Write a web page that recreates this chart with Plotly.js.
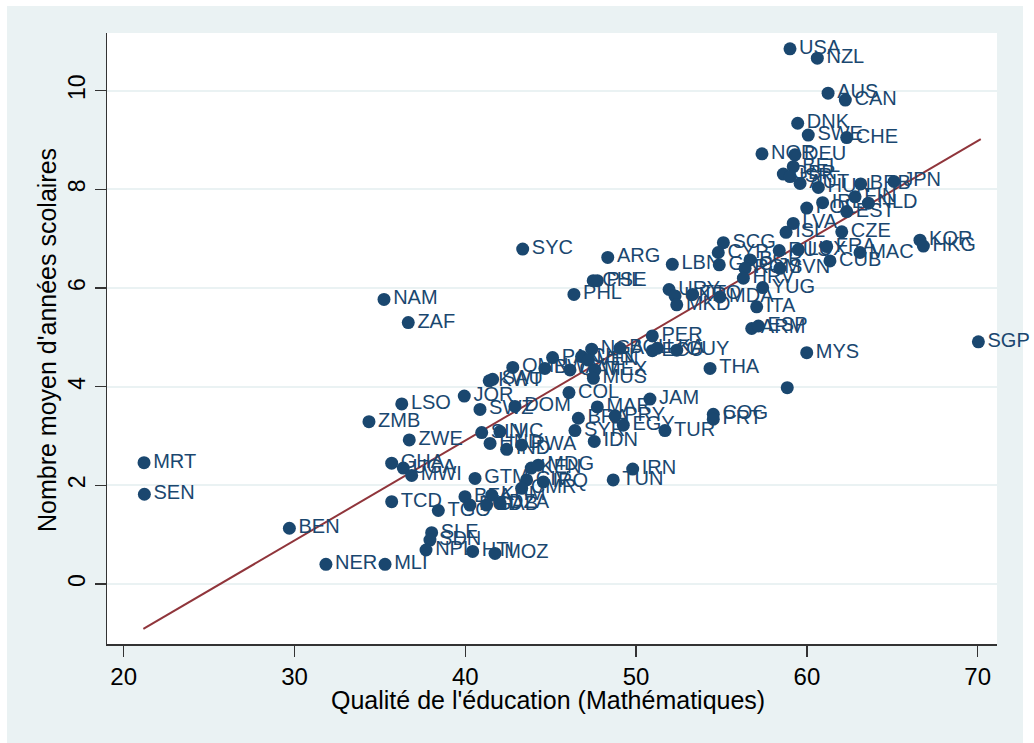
<!DOCTYPE html>
<html>
<head>
<meta charset="utf-8">
<script src="https://cdn.plot.ly/plotly-3.0.1.min.js"></script>
<style>html,body{margin:0;padding:0;background:#fff;}#chart{width:1034px;height:743px;}</style>
</head>
<body>
<div id="chart"></div>
<script>
// Country codes, education quality (maths) and mean years of schooling
const countries = ["USA","NZL","AUS","CAN","DNK","SWE","CHE","NOR","DEU","BEL","GBR","ISR","AUT","HUN","BRB","JPN","FIN","NLD","IRL","POL","EST","LVA","ISL","CZE","SCG","CYP","RUS","LUX","FRA","MAC","CUB","KOR","HKG","GRC","BGR","ROM","HRV","SVN","YUG","TTO","MDA","ITA","ARM","ESP","MYS","THA","SGP","SYC","ARG","LBN","CHL","PSE","PHL","URY","UKR","MKD","PER","NGA","BOL","ECU","LKA","GUY","PAN","CHN","VEN","OMN","BWA","QAT","MEX","MUS","SAU","KWT","JOR","COL","JAM","LSO","SWZ","DOM","ZMB","MAR","BRA","PRY","EGY","TUR","SYR","IDN","COG","PRT","ZWE","SLV","NIC","HND","IND","RWA","GHA","UGA","MWI","GTM","KEN","MDG","IRN","TUN","CIV","IRQ","CMR","TCD","TGO","BFA","BGD","KHM","GAB","DZA","SLE","SDN","NPL","HTI","MOZ","MLI","NER","BEN","MRT","SEN","NAM","ZAF",""];
const quality = [59.01,60.61,61.24,62.25,59.46,60.08,62.33,57.37,59.30,59.20,58.62,59.01,59.60,60.67,63.15,65.10,62.82,63.60,60.92,59.99,62.33,59.20,58.78,62.04,55.11,54.81,58.38,59.50,61.16,63.11,61.35,66.62,66.82,54.87,56.67,56.38,56.28,58.42,57.41,53.31,54.91,57.06,56.77,57.16,59.99,54.33,70.04,43.36,48.34,52.12,47.49,47.73,46.36,51.93,52.28,52.38,50.95,47.40,49.06,50.95,51.25,52.38,45.11,46.81,47.20,42.78,44.66,46.13,47.59,47.50,41.60,41.40,39.94,46.07,50.81,36.28,40.86,42.91,34.36,47.73,46.62,48.77,49.25,51.69,46.42,47.55,54.52,54.52,36.72,40.96,42.03,41.45,42.42,43.30,35.69,36.37,36.86,40.57,43.86,44.27,49.80,48.66,43.59,44.57,43.30,35.69,38.42,39.98,40.27,41.55,41.25,42.03,38.03,37.93,37.70,40.43,41.74,35.30,31.84,29.70,21.19,21.21,35.24,36.66,58.85];
const years = [10.85,10.66,9.95,9.81,9.34,9.10,9.05,8.72,8.70,8.46,8.31,8.26,8.12,8.04,8.11,8.16,7.85,7.72,7.73,7.62,7.55,7.31,7.13,7.14,6.92,6.72,6.76,6.78,6.84,6.72,6.55,6.97,6.85,6.47,6.57,6.40,6.20,6.40,6.01,5.87,5.82,5.62,5.18,5.23,4.69,4.37,4.91,6.79,6.62,6.48,6.15,6.15,5.87,5.97,5.84,5.66,5.03,4.76,4.78,4.73,4.78,4.74,4.59,4.61,4.54,4.39,4.37,4.34,4.34,4.17,4.15,4.12,3.81,3.88,3.75,3.65,3.54,3.60,3.29,3.59,3.36,3.41,3.22,3.11,3.11,2.89,3.44,3.34,2.92,3.07,3.09,2.85,2.73,2.82,2.45,2.35,2.20,2.14,2.35,2.41,2.33,2.11,2.11,2.07,1.94,1.67,1.49,1.77,1.60,1.80,1.60,1.64,1.04,0.89,0.69,0.66,0.62,0.40,0.40,1.13,2.46,1.82,5.77,5.30,3.98];
// Fitted line end points
const fitX = [21.15, 70.18];
const fitY = [-0.91, 9.02];
const xTicks = [20, 30, 40, 50, 60, 70];
const yTicks = [0, 2, 4, 6, 8, 10];

const navy = '#1a476f';
const bg = '#eaf2f3';

const traces = [
  {
    x: fitX, y: fitY, type: 'scatter', mode: 'lines',
    line: {color: '#90353b', width: 2}, hoverinfo: 'skip', showlegend: false
  },
  {
    x: quality, y: years, text: countries, type: 'scatter', mode: 'markers+text',
    textposition: 'middle right', cliponaxis: false,
    marker: {color: navy, size: 13},
    textfont: {family: 'Liberation Sans, Arial, sans-serif', size: 20, color: navy},
    showlegend: false
  }
];

const layout = {
  width: 1034, height: 743,
  margin: {l: 107, r: 37, t: 33, b: 99, pad: 0},
  paper_bgcolor: bg, plot_bgcolor: '#ffffff',
  font: {family: 'Liberation Sans, Arial, sans-serif', color: '#000'},
  showlegend: false,
  xaxis: {
    range: [19.022, 71.13], tickvals: xTicks, ticktext: xTicks.map(String),
    ticks: 'outside', ticklen: 11, tickwidth: 1.3, tickcolor: '#333',
    showline: true, linecolor: '#333', linewidth: 1.5, mirror: false,
    showgrid: false, zeroline: false, tickfont: {size: 24, color: '#000'}
  },
  yaxis: {
    range: [-1.216, 11.17], tickvals: yTicks, ticktext: yTicks.map(String),
    ticks: 'outside', ticklen: 11, tickwidth: 1.3, tickcolor: '#333',
    showline: true, linecolor: '#333', linewidth: 1.5, mirror: false,
    showgrid: true, gridcolor: bg, gridwidth: 2, zeroline: false,
    tickangle: -90, tickfont: {size: 23, color: '#000'}
  },
  annotations: [
    {text: "Qualité de l'éducation (Mathématiques)", xref: 'paper', yref: 'paper',
     x: 0.496, y: -0.092, xanchor: 'center', yanchor: 'middle', showarrow: false,
     font: {size: 25, color: '#000'}},
    {text: "Nombre moyen d'années scolaires", xref: 'paper', yref: 'paper',
     x: -0.0674, y: 0.4975, xanchor: 'center', yanchor: 'middle', showarrow: false,
     textangle: -90, font: {size: 25, color: '#000'}}
  ],
  shapes: [
    {type: 'rect', xref: 'paper', yref: 'paper', x0: -0.13, x1: -0.1124, y0: -0.2, y1: 1.1, fillcolor: '#fff', line: {width: 0}, layer: 'below'},
    {type: 'rect', xref: 'paper', yref: 'paper', x0: -0.13, x1: 1.06, y0: 1.0442, y1: 1.1, fillcolor: '#fff', line: {width: 0}, layer: 'below'},
    {type: 'rect', xref: 'paper', yref: 'paper', x0: 1.0292, x1: 1.06, y0: -0.2, y1: 1.1, fillcolor: '#fff', line: {width: 0}, layer: 'below'}
  ]
};

Plotly.newPlot('chart', traces, layout, {displayModeBar: false, staticPlot: true});
</script>
</body>
</html>
